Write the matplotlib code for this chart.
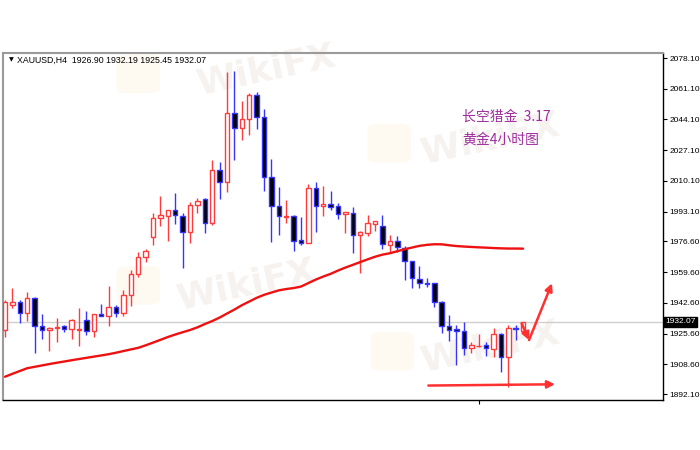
import matplotlib
matplotlib.use('Agg')
import matplotlib.pyplot as plt
from matplotlib.patches import FancyBboxPatch
import matplotlib.transforms as mtransforms

# ---- data ----
symbol = 'XAUUSD,H4'
header_ohlc = [1926.90, 1932.19, 1925.45, 1932.07]

opens = [1927.53, 1941.37, 1943.03, 1936.94, 1945.25, 1929.75, 1927.53, 1928.64, 1929.75, 1928.09,
         1927.53, 1933.07, 1926.98, 1936.20, 1935.45, 1940.43, 1936.77, 1946.91, 1958.53, 1967.78,
         1979.18, 1989.36, 1990.64, 1993.96, 1990.64, 1981.95, 1996.56, 1999.88, 1986.60, 2016.10,
         2009.63, 2047.82, 2039.18, 2044.17, 2057.45, 2045.61, 2012.06, 1996.17, 1990.25, 1990.64,
         1977.35, 1975.97, 2005.97, 1996.34, 1997.12, 1996.00, 1991.74, 1992.46, 1980.12, 1981.06,
         1986.21, 1985.10, 1974.58, 1976.80, 1972.92, 1965.89, 1955.60, 1953.72, 1953.38, 1943.20,
         1929.75, 1927.90, 1926.98, 1917.40, 1918.67, 1919.23, 1917.01, 1925.15, 1912.76, 1928.80,
         1926.90]
highs = [1944.14, 1950.78, 1944.14, 1948.57, 1945.80, 1936.39, 1929.20, 1934.17, 1930.30, 1933.62,
         1939.71, 1938.05, 1936.39, 1941.92, 1951.89, 1941.37, 1949.67, 1960.74, 1970.54, 1972.20,
         1992.46, 2001.71, 1993.96, 2003.54, 1992.46, 1998.55, 2000.77, 2000.44, 2021.64, 2020.70,
         2070.18, 2070.90, 2054.30, 2058.56, 2059.45, 2049.70, 2022.19, 2006.52, 1999.49, 1991.19,
         1990.25, 2008.35, 2009.74, 2007.08, 2004.48, 1997.67, 1993.02, 1995.45, 1982.33, 1991.19,
         1988.15, 1991.19, 1980.12, 1979.57, 1974.03, 1965.89, 1962.96, 1956.15, 1953.38, 1943.75,
         1935.83, 1930.30, 1932.13, 1921.06, 1925.32, 1921.06, 1928.47, 1925.70, 1930.30, 1930.30,
         1932.19]
lows = [1923.66, 1939.71, 1931.41, 1932.51, 1914.80, 1922.55, 1915.91, 1920.89, 1926.42, 1922.55,
        1918.67, 1924.77, 1923.66, 1935.30, 1929.91, 1934.56, 1935.10, 1940.82, 1957.04, 1965.34,
        1974.58, 1985.10, 1976.80, 1986.21, 1961.69, 1975.53, 1992.46, 1981.39, 1985.65, 1999.88,
        2004.09, 2021.64, 2032.71, 2035.48, 2038.80, 2004.64, 1976.41, 1980.12, 1986.93, 1971.43,
        1974.58, 1975.97, 1981.78, 1990.64, 1994.13, 1988.81, 1981.50, 1969.99, 1959.25, 1979.57,
        1982.50, 1972.37, 1969.99, 1970.88, 1955.21, 1950.62, 1950.62, 1951.50, 1940.10, 1925.70,
        1921.61, 1908.16, 1913.69, 1914.63, 1917.96, 1913.14, 1912.76, 1904.45, 1896.15, 1922.00,
        1925.45]
closes = [1943.03, 1943.03, 1936.94, 1945.25, 1929.75, 1927.53, 1928.64, 1929.20, 1928.09, 1933.07,
          1927.90, 1926.98, 1936.39, 1935.45, 1940.10, 1936.77, 1946.91, 1958.53, 1967.78, 1971.26,
          1989.36, 1991.03, 1993.96, 1991.03, 1981.95, 1996.56, 1999.11, 1986.93, 2016.10, 2009.29,
          2047.49, 2039.18, 2044.17, 2057.62, 2045.61, 2012.39, 1996.17, 1990.64, 1990.80, 1977.08,
          1975.97, 2005.97, 1996.17, 1997.17, 1995.90, 1991.63, 1992.85, 1980.12, 1981.95, 1986.60,
          1987.87, 1975.14, 1976.80, 1973.48, 1966.00, 1956.15, 1953.72, 1953.17, 1943.20, 1929.75,
          1927.53, 1926.98, 1917.40, 1919.23, 1918.95, 1917.40, 1925.32, 1912.76, 1928.47, 1928.09,
          1932.07]
ma_values = [1901.68, 1903.29, 1904.84, 1906.39, 1907.16, 1907.94, 1908.71, 1909.43, 1910.10, 1910.81,
             1911.48, 1912.14, 1912.81, 1913.47, 1914.14, 1914.97, 1915.91, 1916.79, 1917.68, 1919.06,
             1920.56, 1922.11, 1923.66, 1925.04, 1926.31, 1927.53, 1929.03, 1930.85, 1932.51, 1934.45,
             1936.67, 1938.88, 1941.26, 1943.31, 1945.36, 1947.02, 1948.29, 1949.51, 1950.23, 1950.78,
             1951.61, 1953.55, 1955.49, 1957.15, 1958.64, 1960.47, 1962.13, 1963.62, 1965.17, 1966.67,
             1968.11, 1969.27, 1970.05, 1971.15, 1972.26, 1973.20, 1974.14, 1974.69, 1975.03, 1974.98,
             1974.47, 1974.03, 1973.75, 1973.53, 1973.31, 1973.14, 1972.92, 1972.76, 1972.65, 1972.65,
             1972.59]

price_ticks = [2078.10, 2061.10, 2044.10, 2027.10, 2010.10, 1993.10, 1976.60,
               1959.60, 1942.60, 1925.60, 1908.60, 1892.10]
current_price = 1932.07
time_tick = 64

note_lines = ['长空猎金  3.17', '黄金4小时图']

# hand drawn arrows (bar index, price)
flat_arrow = [(57.2, 1896.8), (74.3, 1897.5)]
hook_down = [(69.8, 1931.2), (70.8, 1922.0)]
hook_up = [(70.8, 1922.0), (73.9, 1953.4)]

BULL = '#ff3b3b'
BEAR_WICK = '#3535ff'
MA_RED = '#ee1111'
PURPLE = '#a02ca0'

fig = plt.figure(figsize=(7, 4.5), dpi=100)
ax = fig.add_axes([3 / 700, 1 - 400 / 450, 660 / 700, 347 / 450])

xs = list(range(len(opens)))
for i in xs:
    o, h, l, c = opens[i], highs[i], lows[i], closes[i]
    bull = c >= o
    wick = BULL if bull else BEAR_WICK
    ax.vlines(i, l, h, colors=wick, linewidth=1, zorder=2)
    ax.bar(i, abs(c - o), bottom=min(o, c), width=0.6,
           facecolor='white' if bull else 'black',
           edgecolor=BULL if bull else BEAR_WICK, linewidth=1, zorder=3)

ax.plot(xs, ma_values, color=MA_RED, linewidth=1.7, zorder=4, solid_capstyle='round')
ax.axhline(current_price, color='#cfcfcf', linewidth=1, zorder=1)

arrow_kw = dict(arrowstyle='-|>', color='#ff3030', lw=1.8, mutation_scale=11,
                shrinkA=0, shrinkB=0)
for (x0, y0), (x1, y1) in [flat_arrow, hook_down, hook_up]:
    ax.annotate('', xy=(x1, y1), xytext=(x0, y0), arrowprops=arrow_kw, zorder=6)

ax.set_xlim(-0.27, 88.9)
ax.set_ylim(1888.8, 2080.9)

ax.yaxis.tick_right()
ax.set_yticks(price_ticks)
ax.set_yticklabels(['%.2f' % p for p in price_ticks], fontsize=6,
                   family='Liberation Sans')
ax.tick_params(axis='y', length=3, width=0.8, pad=1.5, colors='black')
ax.set_xticks([time_tick])
ax.set_xticklabels([''])
ax.tick_params(axis='x', length=3, width=0.8)

for side in ['left', 'top']:
    ax.spines[side].set_color('#9a9a9a')
    ax.spines[side].set_linewidth(1.5)
for side in ['right', 'bottom']:
    ax.spines[side].set_color('black')
    ax.spines[side].set_linewidth(1)

# current price tag on the scale
tr = mtransforms.blended_transform_factory(ax.transAxes, ax.transData)
ax.text(1.004, current_price, '%.2f' % current_price, transform=tr, fontsize=6,
        family='Liberation Sans', color='white', va='center', ha='left',
        bbox=dict(boxstyle='square,pad=0.15', facecolor='black', edgecolor='black'),
        clip_on=False, zorder=7)

# faint WikiFX watermarks
for (tx, ty), (lx, ly) in [((0.40, 0.95), (0.205, 0.94)),
                           ((0.37, 0.33), (0.205, 0.33)),
                           ((0.74, 0.75), (0.585, 0.74)),
                           ((0.74, 0.15), (0.59, 0.14))]:
    ax.text(tx, ty, 'WikiFX', transform=ax.transAxes, fontsize=26, fontweight='bold',
            color='#f6f2ef', ha='center', va='center', rotation=12, zorder=0.5)
    ax.add_patch(FancyBboxPatch((lx - 0.028, ly - 0.05), 0.056, 0.10,
                                boxstyle='round,pad=0.005,rounding_size=0.015',
                                transform=ax.transAxes, facecolor='#fef9f1',
                                edgecolor='none', zorder=0.4))

# header line
fig.text(9 / 700, 1 - 60 / 450, '\u25bc', fontsize=4.5, color='black', va='center',
         family='DejaVu Sans')
fig.text(17 / 700, 1 - 60 / 450,
         symbol + '  ' + ' '.join('%.2f' % v for v in header_ohlc),
         fontsize=6.3, family='Liberation Sans', color='black', va='center')

for k, line in enumerate(note_lines):
    fig.text(462 / 700, 1 - (117 + 23 * k) / 450, line, fontsize=10, color=PURPLE,
             va='center', family=['Noto Sans CJK SC', 'DejaVu Sans'])

fig.savefig('out.png', dpi=100, facecolor='white')
